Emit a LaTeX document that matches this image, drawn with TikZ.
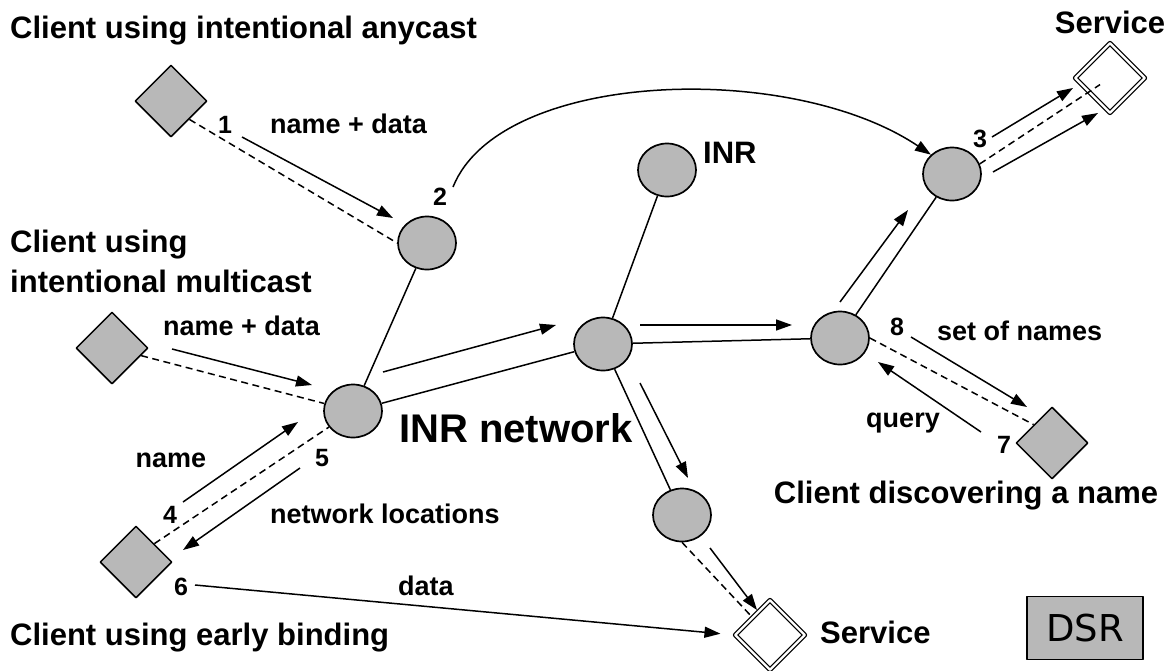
\documentclass[tikz,border=0pt]{standalone}
\usepackage{fontspec}
\setmainfont{Liberation Sans}
\newfontfamily\dsrfont{DejaVu Sans}
\usetikzlibrary{shapes.geometric,arrows.meta}
\tikzset{>={Triangle[length=16pt,width=11pt]}}
\tikzset{
  inr/.style={ellipse, draw, line width=1.7pt, fill=black!28, minimum width=58pt, minimum height=53pt, inner sep=0pt},
  client/.style={diamond, draw, line width=1.5pt, fill=black!28, minimum size=72pt, inner sep=0pt},
  service/.style={diamond, draw, double, double distance=2.4pt, line width=1.2pt, fill=white, minimum size=70pt, inner sep=0pt},
  title/.style={font=\fontsize{31}{36}\selectfont\bfseries, inner sep=0pt},
  lbl/.style={font=\fontsize{27}{31}\selectfont\bfseries, inner sep=0pt},
  num/.style={font=\fontsize{25}{29}\selectfont\bfseries, inner sep=0pt},
  msg/.style={line width=1.5pt, ->},
  link/.style={line width=1.5pt},
  dsh/.style={line width=1.5pt, dash pattern=on 7pt off 4.5pt}
}

\begin{document}
\begin{tikzpicture}[x=1pt, y=-1pt, line join=round]
    \useasboundingbox (0,0) rectangle (1172,670);

    % routers
    \node[inr] (N2) at (427,243) {};
    \node[inr] (A) at (353,411) {};
    \node[inr] (B) at (603,344) {};
    \node[inr] (INR) at (667,170) {};
    \node[inr] (C) at (840,338) {};
    \node[inr] (N3) at (952,174) {};
    \node[inr] (N4) at (682,515) {};

    % clients and services
    \node[client] (D1) at (171,101) {};
    \node[client] (D2) at (112,348) {};
    \node[client] (D3) at (136,562) {};
    \node[client] (D4) at (1052,443) {};
    \node[service] (S1) at (1110,78) {};
    \node[service] (S2) at (770,635) {};

    % texts
    \node[title, anchor=base west] (tany) at (10,38) {Client using intentional anycast};
    \node[title, anchor=base west] (tmul) at (10,252) {Client using};
    \node[title, anchor=base west] (tmul2) at (10,292) {intentional multicast};
    \node[title, anchor=base west] (tearly) at (10,645) {Client using early binding};
    \node[title, anchor=base] (tdisc) at (966,503) {Client discovering a name};
    \node[title, anchor=base] (tsrv1) at (1110,33) {Service};
    \node[title, anchor=base west] (tsrv2) at (820,643) {Service};
    \node[title, anchor=base west] (tinr) at (703,163) {INR};
    \node[font=\fontsize{40}{44}\selectfont\bfseries, inner sep=0pt, anchor=base west] (tnet) at (399,442) {INR network};

    \node[num, anchor=base] (n1) at (225,133) {1};
    \node[lbl, anchor=base west] (l1) at (270,133) {name + data};
    \node[num, anchor=base] (n2) at (440,205) {2};
    \node[num, anchor=base] (n3) at (980,147) {3};
    \node[lbl, anchor=base west] (l2) at (163,335) {name + data};
    \node[lbl, anchor=base] (lname) at (171,467) {name};
    \node[num, anchor=base] (n5) at (322,466) {5};
    \node[num, anchor=base] (n4) at (170,523) {4};
    \node[lbl, anchor=base west] (lloc) at (270,523) {network locations};
    \node[num, anchor=base] (n6) at (181,595) {6};
    \node[lbl, anchor=base west] (ldata) at (398,595) {data};
    \node[num, anchor=base] (n8) at (897,335) {8};
    \node[lbl, anchor=base west] (lset) at (937,340) {set of names};
    \node[lbl, anchor=base] (lquery) at (903,427) {query};
    \node[num, anchor=base] (n7) at (1004,453) {7};

    % DSR box
    \node[draw, line width=1.5pt, fill=black!28, minimum width=116pt, minimum height=63pt,
          font=\dsrfont\fontsize{37}{40}\selectfont] (dsr) at (1085,628) {DSR};

    % links between routers
    \draw[link] (N2) -- (A);
    \draw[link] (A) -- (B);
    \draw[link] (INR) -- (B);
    \draw[link] (B) -- (C);
    \draw[link] (C) -- (N3);
    \draw[link] (B) -- (N4);

    % anycast
    \draw[dsh] (D1.south east) -- (N2.west);
    \coordinate (a1s) at (242,137);
    \coordinate (a1e) at (393,218);
    \draw[msg] (a1s) -- (a1e);
    \coordinate (c2s) at (453,187);
    \draw[msg] (c2s) .. controls (500,70) and (790,60) .. (N3.north west);
    \coordinate (a3s) at (992,137);
    \coordinate (a3e) at (1073,88);
    \draw[msg] (a3s) -- (a3e);
    \draw[dsh, shorten >=12pt] (N3.20) -- (S1.center);
    \coordinate (b3s) at (993,172);
    \coordinate (b3e) at (1098,113);
    \draw[msg] (b3s) -- (b3e);

    % multicast
    \draw[dsh] (D2) -- (A);
    \coordinate (m1s) at (172,349);
    \coordinate (m1e) at (312,385);
    \draw[msg] (m1s) -- (m1e);
    \coordinate (m2s) at (383,372);
    \coordinate (m2e) at (556,325);
    \draw[msg] (m2s) -- (m2e);
    \coordinate (m3s) at (640,325);
    \coordinate (m3e) at (792,325);
    \draw[msg] (m3s) -- (m3e);
    \coordinate (m4s) at (840,302);
    \coordinate (m4e) at (908,210);
    \draw[msg] (m4s) -- (m4e);
    \coordinate (m5s) at (640,383);
    \coordinate (m5e) at (688,478);
    \draw[msg] (m5s) -- (m5e);
    \draw[dsh] (N4.south) -- (S2.north west);
    \coordinate (m6s) at (710,548);
    \coordinate (m6e) at (757,610);
    \draw[msg] (m6s) -- (m6e);

    % early binding
    \draw[dsh] (D3.north east) -- (A);
    \coordinate (e4s) at (183,502);
    \coordinate (e4e) at (298,422);
    \draw[msg] (e4s) -- (e4e);
    \coordinate (e5s) at (300,468);
    \coordinate (e5e) at (183,550);
    \draw[msg] (e5s) -- (e5e);
    \coordinate (e6s) at (195,585);
    \draw[msg, shorten >=14pt] (e6s) -- (S2.west);

    % discovering a name
    \draw[dsh] (C.east) -- (D4.north west);
    \coordinate (d8s) at (911,337);
    \coordinate (d8e) at (1027,407);
    \draw[msg] (d8s) -- (d8e);
    \coordinate (d7s) at (981,432);
    \coordinate (d7e) at (878,362);
    \draw[msg] (d7s) -- (d7e);

\end{tikzpicture}
\end{document}
